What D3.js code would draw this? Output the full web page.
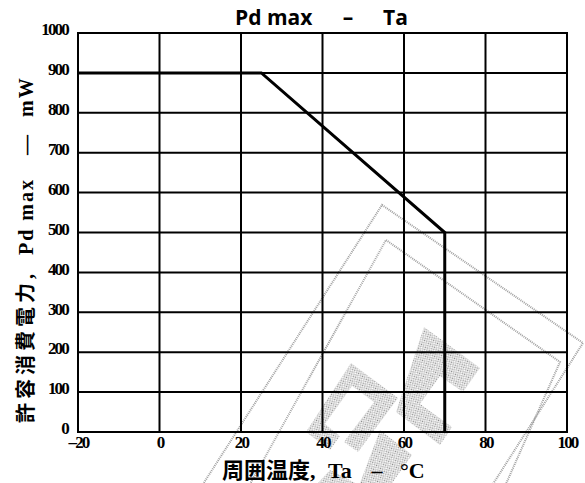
<!DOCTYPE html>
<html><head><meta charset="utf-8">
<script src="https://cdn.jsdelivr.net/npm/d3@7"></script>
<style>
html,body{margin:0;padding:0;background:#fff;}
svg{display:block;}
</style></head>
<body>
<script>
const titleParts = ["Pd max", "–", "Ta"];
const xLabelParts = ["周囲温度,", "Ta", "–", "°C"];
const yLabelParts = ["許容消費電力,", "Pd max", "—", "mW"];
const xTicks = [-20, 0, 20, 40, 60, 80, 100];
const yTicks = [0, 100, 200, 300, 400, 500, 600, 700, 800, 900, 1000];
const curveTa = [-20, 25, 70, 70];
const curvePd = [900, 900, 500, 0];

const W = 585, H = 483;
const m = {left: 78, right: 18, top: 33, bottom: 51};
const svg = d3.select("body").append("svg").attr("width", W).attr("height", H);

const x = d3.scaleLinear().domain([-20, 100]).range([m.left, W - m.right]);
const y = d3.scaleLinear().domain([0, 1000]).range([H - m.bottom, m.top]);

// watermark (approximate)
const defs = svg.append("defs");
const pat = defs.append("pattern").attr("id","hatch").attr("patternUnits","userSpaceOnUse")
  .attr("width",2.5).attr("height",2.5).attr("patternTransform","rotate(35)");
pat.append("rect").attr("width",1).attr("height",1).attr("fill","#555");
pat.append("rect").attr("x",1.25).attr("y",1.25).attr("width",1).attr("height",1).attr("fill","#555");
const wm = svg.append("g").attr("opacity",0.7);
const dotted = (pts) => wm.append("polygon").attr("points", pts.map(p=>p.join(",")).join(" "))
  .attr("fill","none").attr("stroke","#777").attr("stroke-width",2).attr("stroke-dasharray","1,1");
dotted([[382,205],[583,343],[470,520],[180,520]]);
dotted([[386,240],[560,362],[490,520],[230,520]]);
const hatchPoly = (pts) => wm.append("polygon").attr("points", pts.map(p=>p.join(",")).join(" "))
  .attr("fill","url(#hatch)");
hatchPoly([[351,363],[398,398],[358,452],[344,442],[374,402],[352,386],[325,424],[340,436],[330,450],[306,432]]);
hatchPoly([[424,327],[480,368],[463,392],[440,376],[420,404],[452,427],[440,445],[396,412]]);
hatchPoly([[380,430],[412,455],[392,483],[360,483]]);
hatchPoly([[330,470],[355,483],[318,483]]);

// grid
const g = svg.append("g");
g.selectAll("line.vx").data(xTicks).enter().append("line")
  .attr("x1", d => x(d)).attr("x2", d => x(d)).attr("y1", y(0)).attr("y2", y(1000))
  .attr("stroke", "#000").attr("stroke-width", 2);
g.selectAll("line.hy").data(yTicks).enter().append("line")
  .attr("y1", d => y(d)).attr("y2", d => y(d)).attr("x1", x(-20) - 1).attr("x2", x(100) + 1)
  .attr("stroke", "#000").attr("stroke-width", 2);

const tickFont = sel => sel.attr("font-family", "Liberation Serif, serif").attr("font-weight", "bold")
  .attr("font-size", 17).attr("fill", "#000").attr("letter-spacing", "-1.8");

const xAxis = svg.append("g").attr("transform", `translate(0,${y(0)})`)
  .call(d3.axisBottom(x).tickValues(xTicks).tickSize(0).tickPadding(4).tickFormat(d => d < 0 ? "–" + Math.abs(d) : String(d)));
xAxis.select(".domain").remove();
xAxis.selectAll("text").call(tickFont);

const yAxis = svg.append("g").attr("transform", `translate(${x(-20)},0)`)
  .call(d3.axisLeft(y).tickValues(yTicks).tickSize(0).tickPadding(10).tickFormat(d => String(d)));
yAxis.select(".domain").remove();
yAxis.selectAll("text").call(tickFont).attr("dy", "0.1em");

// curve
const line = d3.line().x((d, i) => x(curveTa[i])).y((d, i) => y(curvePd[i]));
svg.append("path").datum(curvePd).attr("d", line)
  .attr("fill", "none").attr("stroke", "#000").attr("stroke-width", 3).attr("stroke-linejoin", "miter");

// title
const t = svg.append("text").attr("y", 25)
  .attr("font-family", "Open Sans, sans-serif").attr("font-weight", "bold").attr("font-size", 21);
t.append("tspan").attr("x", 235).text(titleParts[0]);
t.append("tspan").attr("x", 348).attr("text-anchor", "middle").text(titleParts[1]);
t.append("tspan").attr("x", 383).text(titleParts[2]);

// x label
const xl = svg.append("text").attr("y", 478)
  .attr("font-family", "Liberation Serif, Noto Sans CJK JP, serif").attr("font-weight", "bold").attr("font-size", 22);
xl.append("tspan").attr("x", 222).text(xLabelParts[0]);
xl.append("tspan").attr("x", 328).text(xLabelParts[1]);
xl.append("tspan").attr("x", 377).attr("text-anchor", "middle").text(xLabelParts[2]);
xl.append("tspan").attr("x", 400).text(xLabelParts[3]);

// y label
const yl = svg.append("text").attr("transform", "translate(33,423) rotate(-90)")
  .attr("font-family", "Liberation Serif, Noto Sans CJK JP, serif").attr("font-weight", "bold").attr("font-size", 20);
yl.append("tspan").attr("x", 0).attr("letter-spacing", 4).text(yLabelParts[0]);
yl.append("tspan").attr("x", 168).attr("letter-spacing", 2).text(yLabelParts[1]);
yl.append("tspan").attr("x", 278).attr("text-anchor", "middle").text(yLabelParts[2]);
yl.append("tspan").attr("x", 306).attr("letter-spacing", 2).text(yLabelParts[3]);
</script>
</body></html>
